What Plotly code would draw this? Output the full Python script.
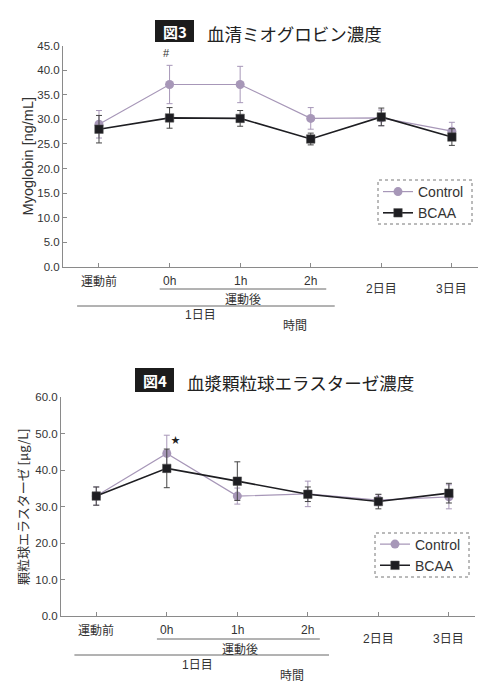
import plotly.graph_objects as go

# ---------------- data ----------------
categories = ["運動前", "0h", "1h", "2h", "2日目", "3日目"]
upper_labels = ["運動前", "0h", "1h", "2h"]
lower_labels = ["2日目", "3日目"]

# Figure 3: serum myoglobin [ng/mL]
mb_control = [29.0, 37.1, 37.1, 30.2, 30.3, 27.6]
mb_control_err = [2.8, 3.9, 3.7, 2.2, 1.6, 1.8]
mb_bcaa = [28.0, 30.3, 30.2, 26.0, 30.5, 26.4]
mb_bcaa_err = [2.8, 2.1, 1.6, 1.2, 1.8, 1.7]

# Figure 4: plasma granulocyte elastase [ug/L]
ge_control = [32.9, 44.6, 32.9, 33.5, 31.8, 32.7]
ge_control_err = [2.5, 5.0, 2.2, 3.5, 1.5, 3.3]
ge_bcaa = [32.9, 40.5, 37.0, 33.4, 31.4, 33.7]
ge_bcaa_err = [2.5, 5.3, 5.3, 2.0, 2.0, 2.7]

y1_ticks = [0, 5, 10, 15, 20, 25, 30, 35, 40, 45]
y2_ticks = [0, 10, 20, 30, 40, 50, 60]

# ---------------- style ----------------
W, H = 500, 692
CTRL = "#a797b8"
BCAA = "#1e1e22"
AXC = "#8a8a8a"
TXT = "#333333"
FONT = "Liberation Sans, Noto Sans CJK JP, sans-serif"
JFONT = "Noto Sans CJK JP, sans-serif"

def py(p):
    return 1 - p / H

def px(p):
    return p / W

xs = list(range(len(categories)))

fig = go.Figure()

def add_series(xa, ya, leg, ctrl, cerr, bcaa, berr):
    fig.add_trace(go.Scatter(
        x=xs, y=ctrl, name="Control", mode="lines+markers",
        xaxis=xa, yaxis=ya, legend=leg,
        line=dict(color=CTRL, width=1.2),
        marker=dict(symbol="circle", size=9, color=CTRL),
        error_y=dict(type="data", array=cerr, visible=True,
                     color=CTRL, thickness=1, width=3),
    ))
    fig.add_trace(go.Scatter(
        x=xs, y=bcaa, name="BCAA", mode="lines+markers",
        xaxis=xa, yaxis=ya, legend=leg,
        line=dict(color=BCAA, width=1.6),
        marker=dict(symbol="square", size=8.5, color=BCAA,
                    line=dict(color="#555", width=0.5)),
        error_y=dict(type="data", array=berr, visible=True,
                     color="#444", thickness=1, width=3),
    ))

add_series("x", "y", "legend", mb_control, mb_control_err, mb_bcaa, mb_bcaa_err)
add_series("x2", "y2", "legend2", ge_control, ge_control_err, ge_bcaa, ge_bcaa_err)

axis_common = dict(showgrid=False, zeroline=False, showline=True,
                   linecolor=AXC, linewidth=1, ticks="inside",
                   tickcolor=AXC, ticklen=4, tickwidth=1, automargin=False)

fig.update_layout(
    width=W, height=H,
    margin=dict(l=0, r=0, t=0, b=0, pad=0),
    paper_bgcolor="white", plot_bgcolor="white",
    font=dict(family=FONT, color=TXT),
    xaxis=dict(domain=[px(63), px(478)], range=[-0.51, 5.37],
               tickvals=xs, showticklabels=False, anchor="y", **axis_common),
    yaxis=dict(domain=[py(266.7), py(45.7)], range=[0, 45],
               tickvals=y1_ticks, tickformat=".1f", anchor="x",
               tickfont=dict(size=11.5, color=TXT),
               title=dict(text="Myoglobin [ng/mL]", standoff=0,
                          font=dict(size=14.5, color=TXT)),
               **axis_common),
    xaxis2=dict(domain=[px(61), px(475)], range=[-0.5, 5.37],
                tickvals=xs, showticklabels=False, anchor="y2", **axis_common),
    yaxis2=dict(domain=[py(616), py(397.3)], range=[0, 60],
                tickvals=y2_ticks, tickformat=".1f", anchor="x2",
                tickfont=dict(size=11.5, color=TXT),
                title=dict(text="顆粒球エラスターゼ [μg/L]", standoff=3,
                           font=dict(size=13, color=TXT, family=JFONT)),
                **axis_common),
    legend=dict(x=px(378), y=py(202.5), xanchor="left", yanchor="middle",
                bgcolor="rgba(0,0,0,0)", borderwidth=0,
                font=dict(size=14, color=TXT), tracegroupgap=0),
    legend2=dict(x=px(375), y=py(555), xanchor="left", yanchor="middle",
                 bgcolor="rgba(0,0,0,0)", borderwidth=0,
                 font=dict(size=14, color=TXT), tracegroupgap=0),
    showlegend=True,
)

shapes = []
annotations = []

def ann(x, y, text, xref="paper", yref="paper", size=12, family=FONT,
        color=TXT, xanchor="center", yanchor="middle"):
    annotations.append(dict(x=x, y=y, xref=xref, yref=yref, text=text,
                            showarrow=False, xanchor=xanchor, yanchor=yanchor,
                            font=dict(size=size, color=color, family=family)))

def panel(xa, label_y, low_y, l1, l2, sub_y, day_y, time_y,
          sub_x, day_x, time_x, title_box, fig_label, title_text, title_x, title_y,
          legbox):
    for i, lab in enumerate(categories):
        yy = label_y if lab in upper_labels else low_y
        ann(i, py(yy), lab, xref=xa)
    shapes.append(dict(type="line", xref=xa, yref="paper",
                       x0=l1[0], x1=l1[1], y0=py(l1[2]), y1=py(l1[2]),
                       line=dict(color="#666", width=1)))
    shapes.append(dict(type="line", xref=xa, yref="paper",
                       x0=l2[0], x1=l2[1], y0=py(l2[2]), y1=py(l2[2]),
                       line=dict(color="#666", width=1)))
    ann(sub_x, py(sub_y), "運動後", xref=xa, family=JFONT)
    ann(day_x, py(day_y), "1日目", xref=xa)
    ann(time_x, py(time_y), "時間", xref=xa, family=JFONT)
    bx0, bx1, by0, by1 = title_box
    shapes.append(dict(type="rect", xref="paper", yref="paper",
                       x0=px(bx0), x1=px(bx1), y0=py(by1), y1=py(by0),
                       fillcolor="#1c1c1c", line=dict(width=0), layer="below"))
    ann(px((bx0 + bx1) / 2), py((by0 + by1) / 2), "<b>" + fig_label + "</b>",
        size=15, color="white", family=JFONT)
    ann(px(title_x), py(title_y), title_text, size=17.5, color="#222",
        family=JFONT, xanchor="left")
    lx0, lx1, ly0, ly1 = legbox
    shapes.append(dict(type="rect", xref="paper", yref="paper",
                       x0=px(lx0), x1=px(lx1), y0=py(ly1), y1=py(ly0),
                       line=dict(color="#777", width=1, dash="dot")))

panel("x", 281, 289, (0.86, 3.22, 289), (-0.31, 3.34, 306), 298, 315, 324,
      2.04, 1.44, 2.78, (155, 194, 20, 42), "図3", "血清ミオグロビン濃度", 205, 33,
      (378, 472, 180, 224))
panel("x2", 630, 639, (0.86, 3.17, 639), (-0.31, 3.3, 655), 648, 665, 674,
      2.04, 1.44, 2.78, (135, 174, 368, 392), "図4", "血漿顆粒球エラスターゼ濃度", 185, 382,
      (375, 469, 533, 577))

# significance marks
ann(0.96, 43.6, "#", xref="x", yref="y", size=11)
ann(1.12, 48.3, "★", xref="x2", yref="y2", size=9, family=JFONT, color="#222")

fig.update_layout(shapes=shapes, annotations=annotations)

fig.write_html("out.html", config={"displayModeBar": False},
               post_script="document.body.style.margin='0';document.body.style.padding='0';")
